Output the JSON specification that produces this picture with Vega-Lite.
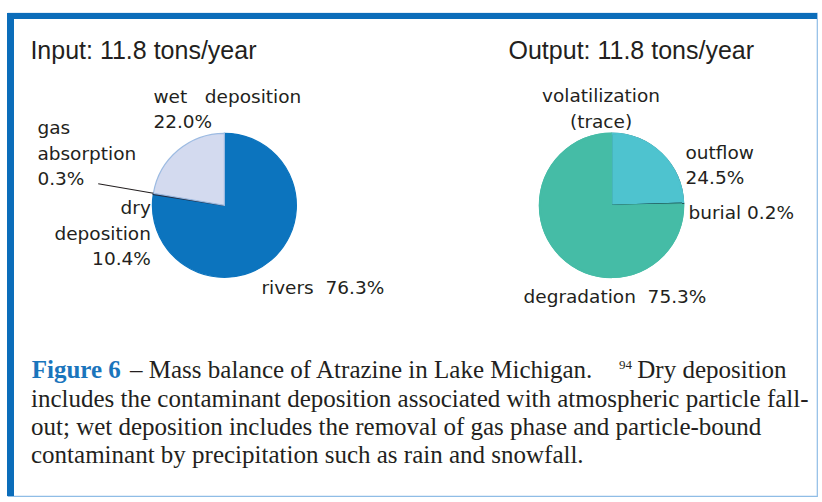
{
  "$schema": "https://vega.github.io/schema/vega-lite/v6.json",
  "width": 822,
  "height": 502,
  "autosize": {"type": "fit", "contains": "padding"},
  "padding": {"left": 5, "top": 9, "right": 2, "bottom": 2},
  "background": "white",
  "config": {"view": {"stroke": "#8fbde6", "strokeWidth": 1.2}},
  "datasets": {
    "slices": [
      {"panel": "Input", "category": "rivers", "value": 76.3, "seq": 1, "label": "rivers\u00a0\u00a076.3%"},
      {"panel": "Input", "category": "gas absorption", "value": 0.3, "seq": 2, "label": "gas\nabsorption\n0.3%"},
      {"panel": "Input", "category": "wet deposition", "value": 22.0, "seq": 3, "label": "wet\u00a0\u00a0\u00a0deposition\n22.0%"},
      {"panel": "Input", "category": "dry deposition", "value": 10.4, "seq": 4, "label": "dry\ndeposition\n10.4%"},
      {"panel": "Output", "category": "outflow", "value": 24.5, "seq": 1, "label": "outflow\n24.5%"},
      {"panel": "Output", "category": "burial", "value": 0.2, "seq": 2, "label": "burial 0.2%"},
      {"panel": "Output", "category": "degradation", "value": 75.3, "seq": 3, "label": "degradation\u00a0\u00a075.3%"},
      {"panel": "Output", "category": "volatilization", "value": 0, "seq": 4, "label": "volatilization\n(trace)"}
    ],
    "panels": [
      {"panel": "Input", "total": 11.8, "title": "Input: 11.8 tons/year"},
      {"panel": "Output", "total": 11.8, "title": "Output: 11.8 tons/year"}
    ],
    "caption": [
      {"part": "figure", "text": "Figure 6"},
      {"part": "lead", "text": "– Mass balance of Atrazine in Lake Michigan."},
      {"part": "ref", "text": "94"},
      {"part": "tail", "text": "Dry deposition"},
      {"part": "body", "text": "includes the contaminant deposition associated with atmospheric particle fall-\nout; wet deposition includes the removal of gas phase and particle-bound\ncontaminant by precipitation such as rain and snowfall."}
    ]
  },
  "data": {"name": "slices"},
  "layer": [
    {
      "transform": [
        {"filter": {"field": "category", "oneOf": ["rivers", "gas absorption", "wet deposition", "outflow", "burial", "degradation"]}},
        {"stack": "value", "groupby": ["panel"], "sort": [{"field": "seq", "order": "ascending"}], "offset": "normalize", "as": ["v0", "v1"]}
      ],
      "mark": {"type": "arc", "radius": 72, "strokeWidth": 1.2},
      "encoding": {
        "x": {"field": "panel", "type": "nominal", "scale": {"type": "point", "domain": ["Input", "Output"], "padding": 0.54487, "align": 0.51294}, "axis": null},
        "y": {"datum": "pie", "type": "nominal", "scale": {"type": "point", "domain": ["pie"], "align": 0.3982}, "axis": null},
        "theta": {"field": "v0", "type": "quantitative", "scale": {"domain": [0, 1]}},
        "theta2": {"field": "v1"},
        "color": {"field": "category", "type": "nominal", "legend": null,
          "scale": {"domain": ["rivers", "gas absorption", "wet deposition", "outflow", "burial", "degradation"],
                    "range": ["#0c74be", "#6d86a8", "#d3daef", "#4ec3cf", "#1d5458", "#45bca6"]}},
        "stroke": {"field": "category", "type": "nominal", "legend": null,
          "scale": {"domain": ["rivers", "gas absorption", "wet deposition", "outflow", "burial", "degradation"],
                    "range": ["#0c74be", "#1f2d45", "#9dbbe2", "#1d5458", "#1d5458", "#45bca6"]}}
      }
    },
    {
      "transform": [
        {"filter": {"field": "category", "oneOf": ["rivers", "gas absorption", "wet deposition", "outflow", "burial", "degradation"]}},
        {"stack": "value", "groupby": ["panel"], "sort": [{"field": "seq", "order": "ascending"}], "offset": "normalize", "as": ["v0", "v1"]},
        {"filter": "datum.panel == 'Output'"}
      ],
      "mark": {"type": "arc", "radius": 72.8, "radius2": 70.6},
      "encoding": {
        "x": {"field": "panel", "type": "nominal", "scale": {"type": "point", "domain": ["Input", "Output"], "padding": 0.54487, "align": 0.51294}, "axis": null},
        "y": {"datum": "pie", "type": "nominal", "scale": {"type": "point", "domain": ["pie"], "align": 0.3982}, "axis": null},
        "theta": {"field": "v0", "type": "quantitative", "scale": {"domain": [0, 1]}},
        "theta2": {"field": "v1"},
        "color": {"field": "category", "type": "nominal", "legend": null}
      }
    },
    {
      "transform": [
        {"filter": {"field": "category", "oneOf": ["rivers", "gas absorption", "wet deposition", "outflow", "burial", "degradation"]}},
        {"stack": "value", "groupby": ["panel"], "sort": [{"field": "seq", "order": "ascending"}], "offset": "normalize", "as": ["v0", "v1"]},
        {"filter": "datum.category == 'gas absorption'"}
      ],
      "mark": {"type": "arc", "radius": 128, "radius2": 72, "filled": false, "stroke": "#231f20", "strokeWidth": 1.1},
      "encoding": {
        "x": {"field": "panel", "type": "nominal", "scale": {"type": "point", "domain": ["Input", "Output"], "padding": 0.54487, "align": 0.51294}, "axis": null},
        "y": {"datum": "pie", "type": "nominal", "scale": {"type": "point", "domain": ["pie"], "align": 0.3982}, "axis": null},
        "theta": {"field": "v1", "type": "quantitative", "scale": {"domain": [0, 1]}},
        "theta2": {"field": "v1"}
      }
    },
    {
      "data": {"name": "panels"},
      "transform": [{"filter": "datum.panel == 'Input'"}],
      "mark": {"type": "text", "align": "left", "baseline": "alphabetic", "dx": -194, "dy": -146.2, "font": "Liberation Sans", "fontSize": 25, "color": "#231f20"},
      "encoding": {
        "x": {"field": "panel", "type": "nominal", "scale": {"type": "point", "domain": ["Input", "Output"], "padding": 0.54487, "align": 0.51294}, "axis": null},
        "y": {"datum": "pie", "type": "nominal", "scale": {"type": "point", "domain": ["pie"], "align": 0.3982}, "axis": null},
        "text": {"field": "title"}
      }
    },
    {
      "data": {"name": "panels"},
      "transform": [{"filter": "datum.panel == 'Output'"}],
      "mark": {"type": "text", "align": "left", "baseline": "alphabetic", "dx": -103, "dy": -146.2, "font": "Liberation Sans", "fontSize": 25, "color": "#231f20"},
      "encoding": {
        "x": {"field": "panel", "type": "nominal", "scale": {"type": "point", "domain": ["Input", "Output"], "padding": 0.54487, "align": 0.51294}, "axis": null},
        "y": {"datum": "pie", "type": "nominal", "scale": {"type": "point", "domain": ["pie"], "align": 0.3982}, "axis": null},
        "text": {"field": "title"}
      }
    },
    {
      "transform": [{"filter": "datum.category == 'wet deposition'"}],
      "mark": {"type": "text", "align": "left", "baseline": "alphabetic", "dx": -71, "dy": -102.5, "font": "DejaVu Sans", "fontSize": 18.5, "lineBreak": "\n", "lineHeight": 24.7, "color": "#231f20"},
      "encoding": {
        "x": {"field": "panel", "type": "nominal", "scale": {"type": "point", "domain": ["Input", "Output"], "padding": 0.54487, "align": 0.51294}, "axis": null},
        "y": {"datum": "pie", "type": "nominal", "scale": {"type": "point", "domain": ["pie"], "align": 0.3982}, "axis": null},
        "text": {"field": "label"}
      }
    },
    {
      "transform": [{"filter": "datum.category == 'gas absorption'"}],
      "mark": {"type": "text", "align": "left", "baseline": "alphabetic", "dx": -187, "dy": -71.5, "font": "DejaVu Sans", "fontSize": 18.5, "lineBreak": "\n", "lineHeight": 25.7, "color": "#231f20"},
      "encoding": {
        "x": {"field": "panel", "type": "nominal", "scale": {"type": "point", "domain": ["Input", "Output"], "padding": 0.54487, "align": 0.51294}, "axis": null},
        "y": {"datum": "pie", "type": "nominal", "scale": {"type": "point", "domain": ["pie"], "align": 0.3982}, "axis": null},
        "text": {"field": "label"}
      }
    },
    {
      "transform": [{"filter": "datum.category == 'dry deposition'"}],
      "mark": {"type": "text", "align": "right", "baseline": "alphabetic", "dx": -73.5, "dy": 8.8, "font": "DejaVu Sans", "fontSize": 18.5, "lineBreak": "\n", "lineHeight": 25.5, "color": "#231f20"},
      "encoding": {
        "x": {"field": "panel", "type": "nominal", "scale": {"type": "point", "domain": ["Input", "Output"], "padding": 0.54487, "align": 0.51294}, "axis": null},
        "y": {"datum": "pie", "type": "nominal", "scale": {"type": "point", "domain": ["pie"], "align": 0.3982}, "axis": null},
        "text": {"field": "label"}
      }
    },
    {
      "transform": [{"filter": "datum.category == 'rivers'"}],
      "mark": {"type": "text", "align": "left", "baseline": "alphabetic", "dx": 37, "dy": 88.2, "font": "DejaVu Sans", "fontSize": 18.5, "color": "#231f20"},
      "encoding": {
        "x": {"field": "panel", "type": "nominal", "scale": {"type": "point", "domain": ["Input", "Output"], "padding": 0.54487, "align": 0.51294}, "axis": null},
        "y": {"datum": "pie", "type": "nominal", "scale": {"type": "point", "domain": ["pie"], "align": 0.3982}, "axis": null},
        "text": {"field": "label"}
      }
    },
    {
      "transform": [{"filter": "datum.category == 'volatilization'"}],
      "mark": {"type": "text", "align": "center", "baseline": "alphabetic", "dx": -10.5, "dy": -103.8, "font": "DejaVu Sans", "fontSize": 18.5, "lineBreak": "\n", "lineHeight": 26, "color": "#231f20"},
      "encoding": {
        "x": {"field": "panel", "type": "nominal", "scale": {"type": "point", "domain": ["Input", "Output"], "padding": 0.54487, "align": 0.51294}, "axis": null},
        "y": {"datum": "pie", "type": "nominal", "scale": {"type": "point", "domain": ["pie"], "align": 0.3982}, "axis": null},
        "text": {"field": "label"}
      }
    },
    {
      "transform": [{"filter": "datum.category == 'outflow'"}],
      "mark": {"type": "text", "align": "left", "baseline": "alphabetic", "dx": 74, "dy": -46.8, "font": "DejaVu Sans", "fontSize": 18.5, "lineBreak": "\n", "lineHeight": 25, "color": "#231f20"},
      "encoding": {
        "x": {"field": "panel", "type": "nominal", "scale": {"type": "point", "domain": ["Input", "Output"], "padding": 0.54487, "align": 0.51294}, "axis": null},
        "y": {"datum": "pie", "type": "nominal", "scale": {"type": "point", "domain": ["pie"], "align": 0.3982}, "axis": null},
        "text": {"field": "label"}
      }
    },
    {
      "transform": [{"filter": "datum.category == 'burial'"}],
      "mark": {"type": "text", "align": "left", "baseline": "alphabetic", "dx": 77, "dy": 13.8, "font": "DejaVu Sans", "fontSize": 18.5, "color": "#231f20"},
      "encoding": {
        "x": {"field": "panel", "type": "nominal", "scale": {"type": "point", "domain": ["Input", "Output"], "padding": 0.54487, "align": 0.51294}, "axis": null},
        "y": {"datum": "pie", "type": "nominal", "scale": {"type": "point", "domain": ["pie"], "align": 0.3982}, "axis": null},
        "text": {"field": "label"}
      }
    },
    {
      "transform": [{"filter": "datum.category == 'degradation'"}],
      "mark": {"type": "text", "align": "left", "baseline": "alphabetic", "dx": -88, "dy": 97.2, "font": "DejaVu Sans", "fontSize": 18.5, "color": "#231f20"},
      "encoding": {
        "x": {"field": "panel", "type": "nominal", "scale": {"type": "point", "domain": ["Input", "Output"], "padding": 0.54487, "align": 0.51294}, "axis": null},
        "y": {"datum": "pie", "type": "nominal", "scale": {"type": "point", "domain": ["pie"], "align": 0.3982}, "axis": null},
        "text": {"field": "label"}
      }
    },
    {
      "data": {"name": "caption"},
      "transform": [{"filter": "datum.part == 'figure'"}],
      "mark": {"type": "text", "align": "left", "baseline": "alphabetic", "dx": -380.8, "dy": 123.8, "font": "Liberation Serif", "fontSize": 25, "fontWeight": "bold", "color": "#1a75bc"},
      "encoding": {"text": {"field": "text"}}
    },
    {
      "data": {"name": "caption"},
      "transform": [{"filter": "datum.part == 'lead'"}],
      "mark": {"type": "text", "align": "left", "baseline": "alphabetic", "dx": -282.5, "dy": 123.8, "font": "Liberation Serif", "fontSize": 25, "color": "#231f20"},
      "encoding": {"text": {"field": "text"}}
    },
    {
      "data": {"name": "caption"},
      "transform": [{"filter": "datum.part == 'ref'"}],
      "mark": {"type": "text", "align": "left", "baseline": "alphabetic", "dx": 206.5, "dy": 114.8, "font": "Liberation Serif", "fontSize": 13, "color": "#231f20"},
      "encoding": {"text": {"field": "text"}}
    },
    {
      "data": {"name": "caption"},
      "transform": [{"filter": "datum.part == 'tail'"}],
      "mark": {"type": "text", "align": "left", "baseline": "alphabetic", "dx": 224.8, "dy": 123.8, "font": "Liberation Serif", "fontSize": 25, "color": "#231f20"},
      "encoding": {"text": {"field": "text"}}
    },
    {
      "data": {"name": "caption"},
      "transform": [{"filter": "datum.part == 'body'"}],
      "mark": {"type": "text", "align": "left", "baseline": "alphabetic", "dx": -381.5, "dy": 152.2, "font": "Liberation Serif", "fontSize": 25, "lineBreak": "\n", "lineHeight": 28.35, "color": "#231f20"},
      "encoding": {"text": {"field": "text"}}
    },
    {
      "data": {"values": [{"edge": "top"}]},
      "mark": {"type": "rule", "color": "#0b6dba", "strokeWidth": 6},
      "encoding": {"y": {"value": 3}}
    },
    {
      "data": {"values": [{"edge": "left"}]},
      "mark": {"type": "rule", "color": "#0b6dba", "strokeWidth": 7},
      "encoding": {"x": {"value": 2.5}}
    }
  ]
}
